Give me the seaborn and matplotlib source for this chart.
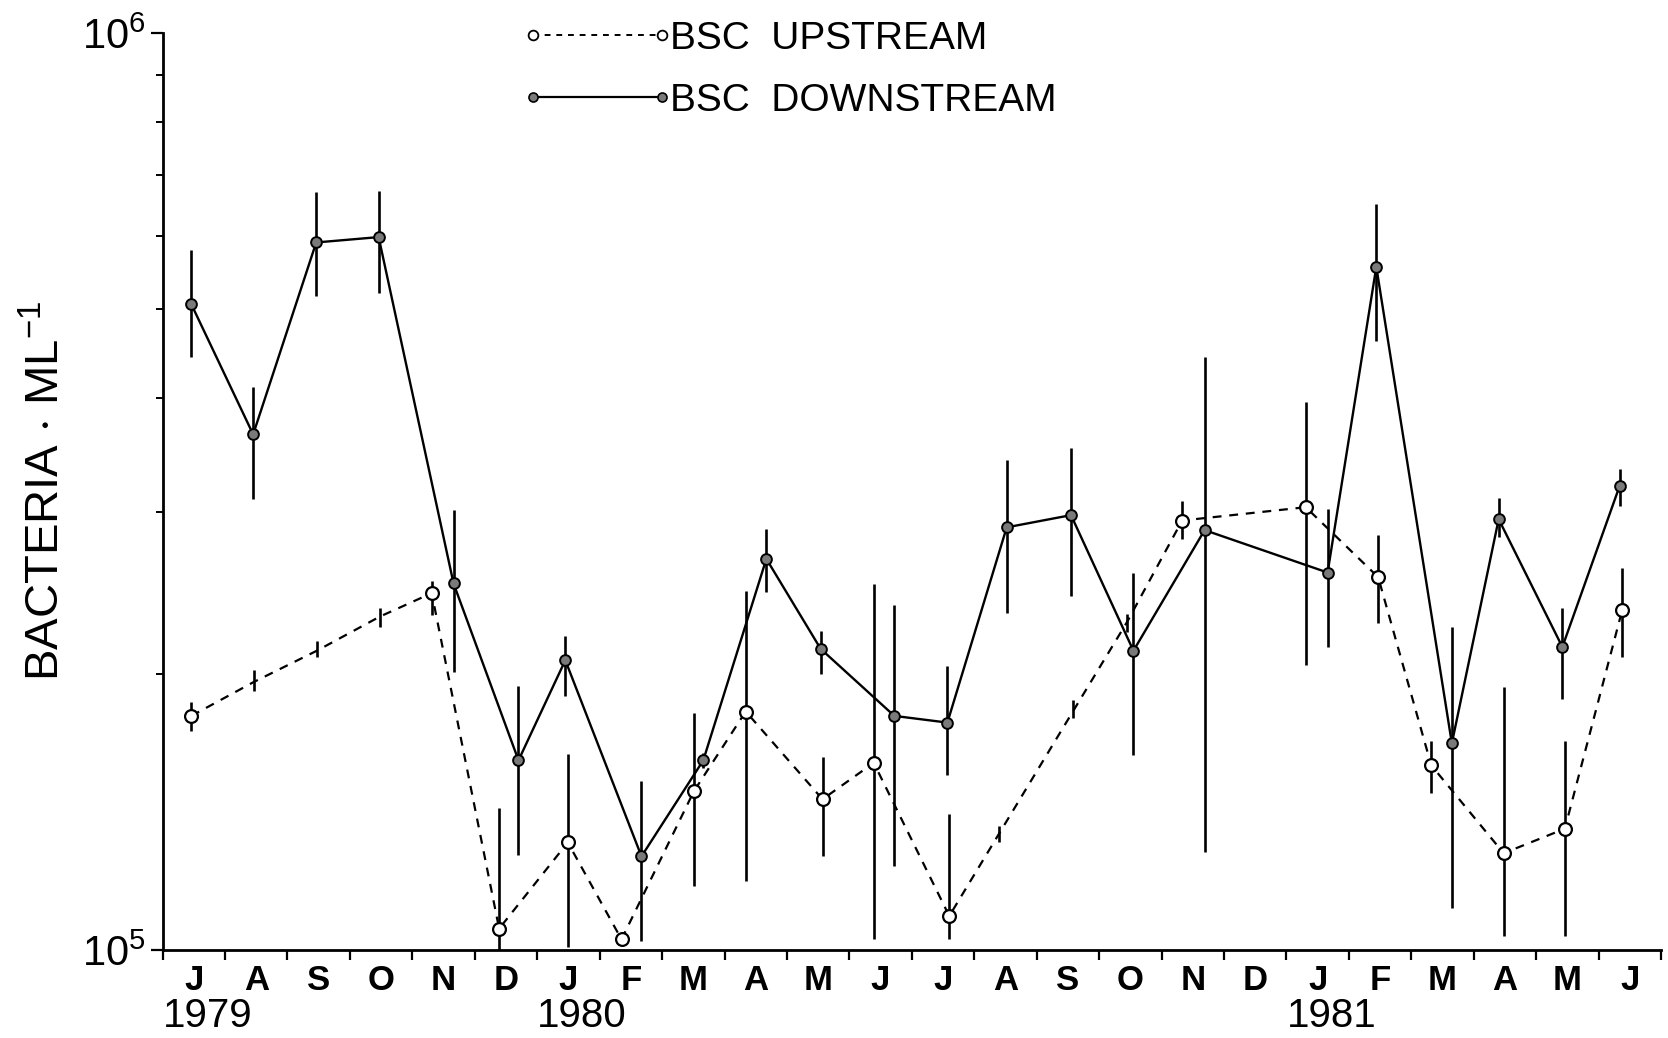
import numpy as np
import pandas as pd
import matplotlib
matplotlib.use("Agg")
import matplotlib.pyplot as plt
from matplotlib.lines import Line2D
from matplotlib.ticker import FixedLocator, FixedFormatter, NullFormatter
import seaborn as sns

# Sampling dates, in months elapsed since 1 July 1979
up_month = [0.46, 1.46, 2.47, 3.48, 4.31, 5.39, 6.49, 7.35, 8.51, 9.34, 10.57, 11.39,
            12.60, 13.40, 14.58, 15.45, 16.33, 18.31, 19.47, 20.32, 21.48, 22.46, 23.38]
# Bacterial counts (x 1e5 per mL), mean and range
up_count = [1.80, 1.96, 2.12, 2.31, 2.45, 1.055, 1.31, 1.027, 1.49, 1.82, 1.46, 1.60,
            1.089, 1.34, 1.82, 2.28, 2.94, 3.04, 2.55, 1.59, 1.275, 1.356, 2.35]
up_lo = [1.734, 1.918, 2.085, 2.253, 2.320, 1.00, 1.008, 1.027, 1.174, 1.190, 1.265, 1.027,
         1.027, 1.310, 1.790, 2.223, 2.804, 2.046, 2.271, 1.485, 1.035, 1.035, 2.085]
up_hi = [1.863, 2.019, 2.170, 2.363, 2.527, 1.427, 1.635, 1.027, 1.814, 2.466, 1.622, 2.506,
         1.408, 1.364, 1.873, 2.326, 3.087, 3.958, 2.834, 1.692, 1.934, 1.692, 2.609]
up_marked = [True, False, False, False, True, True, True, True, True, True, True, True,
             True, False, False, False, True, True, True, True, True, True, True]

dn_month = [0.46, 1.45, 2.46, 3.46, 4.66, 5.70, 6.45, 7.67, 8.66, 9.67, 10.54, 11.72,
            12.57, 13.52, 14.55, 15.55, 16.69, 18.66, 19.44, 20.65, 21.40, 22.42, 23.34]
dn_count = [5.06, 3.65, 5.91, 5.99, 2.51, 1.61, 2.07, 1.265, 1.61, 2.67, 2.13, 1.80,
            1.77, 2.89, 2.98, 2.12, 2.87, 2.58, 5.56, 1.68, 2.95, 2.14, 3.21]
dn_lo = [4.43, 3.10, 5.16, 5.20, 2.01, 1.27, 1.89, 1.022, 1.58, 2.46, 2.00, 1.235,
         1.55, 2.33, 2.43, 1.63, 1.28, 2.14, 4.61, 1.11, 2.82, 1.88, 3.05]
dn_hi = [5.80, 4.11, 6.70, 6.73, 3.02, 1.94, 2.20, 1.53, 1.64, 2.88, 2.23, 2.38,
         2.04, 3.42, 3.53, 2.58, 4.43, 3.03, 6.51, 2.25, 3.11, 2.36, 3.35]

month_labels = ["J", "A", "S", "O", "N", "D", "J", "F", "M", "A", "M", "J",
                "J", "A", "S", "O", "N", "D", "J", "F", "M", "A", "M", "J"]
year_labels = ["1979", "1980", "1981"]
year_start = [0, 6, 18]

series_names = ["BSC  UPSTREAM", "BSC  DOWNSTREAM"]

sns.set_style("ticks")
plt.rcParams["font.family"] = ["Liberation Sans", "DejaVu Sans"]
plt.rcParams["mathtext.default"] = "regular"
for key in ("text.color", "axes.labelcolor", "xtick.color", "ytick.color",
            "axes.edgecolor"):
    plt.rcParams[key] = "black"

scale = 1e5
up = pd.DataFrame({"month": up_month, "count": np.array(up_count) * scale,
                   "lo": np.array(up_lo) * scale, "hi": np.array(up_hi) * scale,
                   "marked": up_marked})
dn = pd.DataFrame({"month": dn_month, "count": np.array(dn_count) * scale,
                   "lo": np.array(dn_lo) * scale, "hi": np.array(dn_hi) * scale})

fig = plt.figure(figsize=(16.68, 10.38), dpi=100)
ax = fig.add_axes([0.0975, 0.0848, 0.8983, 0.8834])
ax.set_yscale("log")

dash = (0, (4, 3.5))
up_fill = "white"
dn_fill = "#7a7a7a"

# range bars
ax.vlines(up["month"], up["lo"], up["hi"], color="black", lw=1.9, zorder=1.5)
ax.vlines(dn["month"], dn["lo"], dn["hi"], color="black", lw=1.9, zorder=1.5)

# connecting lines
sns.lineplot(data=up, x="month", y="count", ax=ax, color="black", lw=1.6,
             linestyle=dash, estimator=None, sort=False, legend=False, zorder=2)
sns.lineplot(data=dn, x="month", y="count", ax=ax, color="black", lw=1.7,
             estimator=None, sort=False, legend=False, zorder=2)

# point markers
sns.scatterplot(data=up[up["marked"]], x="month", y="count", ax=ax, marker="o",
                s=85, color=up_fill, edgecolor="black", linewidth=1.6, zorder=4,
                legend=False)
sns.scatterplot(data=dn, x="month", y="count", ax=ax, marker="o",
                s=60, color=dn_fill, edgecolor="black", linewidth=1.4, zorder=4,
                legend=False)

ax.set_xlim(0, len(month_labels))
ax.set_ylim(1e5, 1e6)
sns.despine(ax=ax)
for side in ("left", "bottom"):
    ax.spines[side].set_linewidth(2.0)

# x axis: ticks at month boundaries, letters centred in each month
ax.xaxis.set_major_locator(FixedLocator(np.arange(len(month_labels) + 1)))
ax.xaxis.set_major_formatter(NullFormatter())
ax.xaxis.set_minor_locator(FixedLocator(np.arange(len(month_labels)) + 0.5))
ax.xaxis.set_minor_formatter(FixedFormatter(month_labels))
ax.tick_params(axis="x", which="major", direction="out", length=7, width=1.6)
ax.tick_params(axis="x", which="minor", length=0, pad=10, labelsize=25)
for t in ax.xaxis.get_minorticklabels():
    t.set_fontweight("bold")

# y axis: decades labelled, minor ticks at intermediate values
ax.yaxis.set_major_locator(FixedLocator([1e5, 1e6]))
ax.yaxis.set_major_formatter(FixedFormatter([r"$\mathregular{10^5}$", r"$\mathregular{10^6}$"]))
ax.yaxis.set_minor_locator(FixedLocator(np.arange(2, 10) * 1e5))
ax.yaxis.set_minor_formatter(NullFormatter())
ax.tick_params(axis="y", which="major", direction="out", length=9, width=1.6,
               labelsize=30, pad=3)
ax.tick_params(axis="y", which="minor", direction="out", length=5, width=1.4)

ax.set_xlabel("")
ax.set_ylabel("")
fig.text(47 / 1668, 1 - 491 / 1038, r"BACTERIA $\cdot$ ML$^{-1}$", rotation=90,
         ha="center", va="center", fontsize=34)

for lab, m in zip(year_labels, year_start):
    ax.text(m, -0.072, lab, transform=ax.get_xaxis_transform(), ha="left",
            va="center", fontsize=29)

handles = [
    Line2D([], [], color="black", lw=1.4, linestyle=(0, (3, 3)), marker="o",
           markersize=7, markerfacecolor=up_fill, markeredgecolor="black", mew=1.3),
    Line2D([], [], color="black", lw=1.6, marker="o", markersize=6.5,
           markerfacecolor=dn_fill, markeredgecolor="black", mew=1.2),
]
fig.legend(handles, series_names, loc="upper left",
           bbox_to_anchor=(0.3124, 0.980), bbox_transform=fig.transFigure,
           frameon=False, numpoints=2, handlelength=3.92, handletextpad=-0.1,
           borderpad=0, borderaxespad=0, labelspacing=0.67, fontsize=28)

fig.savefig("out.png", dpi=100)
